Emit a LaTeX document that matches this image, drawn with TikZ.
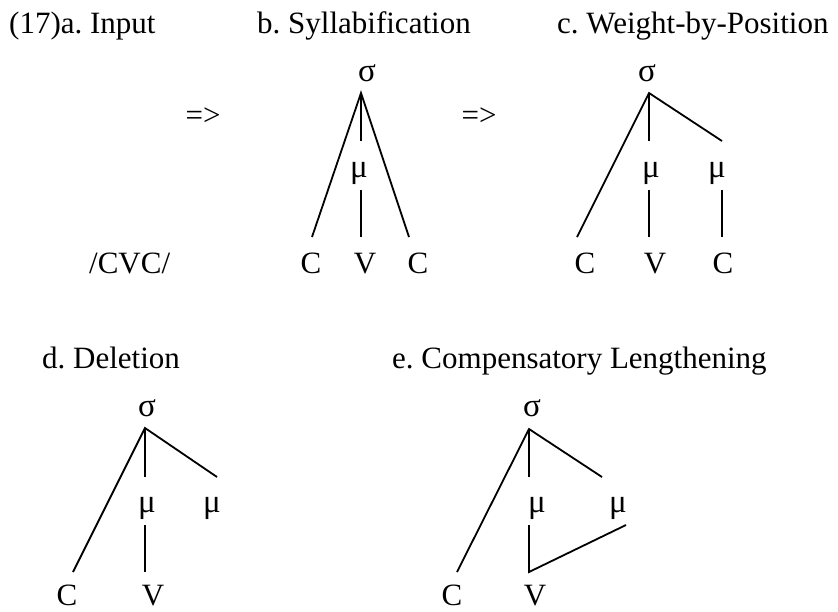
\documentclass[tikz,border=0pt]{standalone}
\usepackage{fontspec}
\setmainfont{Liberation Serif}
\frenchspacing
\begin{document}
\begin{tikzpicture}[x=1pt,y=-1pt,
  txt/.style={inner sep=0pt,anchor=base,font=\fontsize{31}{36}\selectfont},
  grk/.style={inner sep=0pt,anchor=base,font=\fontsize{33}{38}\selectfont},
  ttl/.style={inner sep=0pt,anchor=base west,font=\fontsize{31}{36}\selectfont},
  ln/.style={line width=1.8pt}]
\useasboundingbox (0,0) rectangle (838,611);
% titles
\node[ttl] (ta) at (9,33) {(17)a. Input};
\node[ttl] (tb) at (257,33) {b. Syllabification};
\node[ttl] (tc) at (557,33) {c. Weight-by-Position};
\node[ttl] (td) at (42,368) {d. Deletion};
\node[ttl] (te) at (392,368) {e. Compensatory Lengthening};
\node[txt] (arr1) at (203,125) {=>};
\node[txt] (arr2) at (479,125) {=>};
\node[ttl] (inp) at (89,273) {/CVC/};
% tree b
\node[grk] (bs) at (367,81) {σ};
\node[grk] (bm) at (359,177) {μ};
\node[txt] (bc1) at (311,273) {C};
\node[txt] (bv) at (365,273) {V};
\node[txt] (bc2) at (418,273) {C};
\coordinate (bA) at (361,93);
\coordinate (bL) at (312,237);
\coordinate (bR) at (409,237);
\coordinate (bM1) at (361,141);
\coordinate (bM2) at (361,190);
\coordinate (bM3) at (361,237);
\draw[ln] (bL) -- (bA) -- (bR);
\draw[ln] (bA) -- (bM1);
\draw[ln] (bM2) -- (bM3);
% tree c
\node[grk] (cs) at (647,81) {σ};
\node[grk] (cm1) at (651,177) {μ};
\node[grk] (cm2) at (717,177) {μ};
\node[txt] (cc1) at (585,273) {C};
\node[txt] (cv) at (655,273) {V};
\node[txt] (cc2) at (723,273) {C};
\coordinate (cA) at (649,93);
\coordinate (cL) at (577,237);
\coordinate (cM1) at (649,141);
\coordinate (cR1) at (722,141);
\coordinate (cM2) at (649,190);
\coordinate (cM3) at (649,237);
\coordinate (cR2) at (722,190);
\coordinate (cR3) at (722,237);
\draw[ln] (cL) -- (cA) -- (cR1);
\draw[ln] (cA) -- (cM1);
\draw[ln] (cM2) -- (cM3);
\draw[ln] (cR2) -- (cR3);
% tree d
\node[grk] (ds) at (147,416) {σ};
\node[grk] (dm1) at (147,512) {μ};
\node[grk] (dm2) at (212,512) {μ};
\node[txt] (dc) at (67,605) {C};
\node[txt] (dv) at (153,605) {V};
\coordinate (dA) at (145,428);
\coordinate (dL) at (73,572);
\coordinate (dM1) at (145,477);
\coordinate (dR1) at (217,477);
\coordinate (dM2) at (145,525);
\coordinate (dM3) at (145,572);
\draw[ln] (dL) -- (dA) -- (dR1);
\draw[ln] (dA) -- (dM1);
\draw[ln] (dM2) -- (dM3);
% tree e
\node[grk] (es) at (532,416) {σ};
\node[grk] (em1) at (537,512) {μ};
\node[grk] (em2) at (618,512) {μ};
\node[txt] (ec) at (452,605) {C};
\node[txt] (ev) at (535,605) {V};
\coordinate (eA) at (529,429);
\coordinate (eL) at (457,572);
\coordinate (eM1) at (529,477);
\coordinate (eR1) at (602,477);
\coordinate (eM2) at (529,525);
\coordinate (eM3) at (529,572);
\coordinate (eR2) at (626,525);
\draw[ln] (eL) -- (eA) -- (eR1);
\draw[ln] (eA) -- (eM1);
\draw[ln] (eM2) -- (eM3) -- (eR2);
\end{tikzpicture}
\end{document}
